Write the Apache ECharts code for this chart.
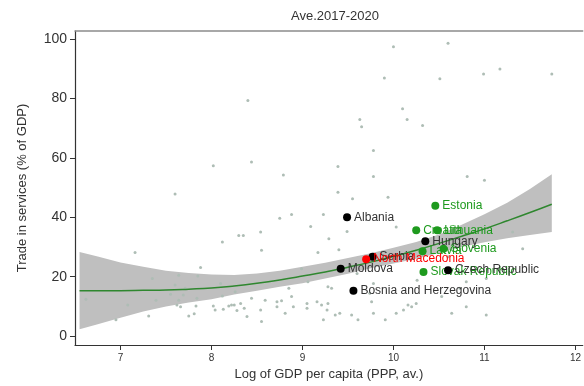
<!DOCTYPE html>
<html>
<head>
<meta charset="utf-8">
<script src="https://cdn.jsdelivr.net/npm/echarts@6/dist/echarts.min.js"></script>
<style>
  html, body { margin: 0; padding: 0; background: #fff; }
  #chart { width: 584px; height: 386px; }
</style>
</head>
<body>
<div id="chart"></div>
<script>
// Axis ticks
const xTicks = [7, 8, 9, 10, 11, 12];
const yTicks = [0, 20, 40, 60, 80, 100];

// All other countries (log GDP per capita, trade in services % of GDP)
const otherCountries = [
  [8.40, 79.3], [8.02, 57.3], [8.44, 58.6], [8.79, 54.2], [9.39, 57.1],
  [10.00, 97.4], [10.60, 98.6], [9.90, 86.9], [10.51, 86.6], [10.99, 88.2],
  [11.17, 89.9], [11.74, 88.2], [10.10, 76.5], [9.63, 72.9], [10.15, 72.9],
  [9.65, 70.5], [10.32, 70.9], [9.78, 62.5], [9.78, 53.7], [10.81, 53.7],
  [7.60, 47.8], [7.16, 28.1], [8.12, 31.7], [8.30, 33.9], [8.35, 33.9],
  [7.88, 23.1], [7.35, 19.4], [7.64, 20.5], [7.85, 20.2], [7.60, 17.2],
  [8.10, 17.7], [7.71, 16.1], [6.62, 12.4], [7.39, 12.1], [7.55, 14.1],
  [7.64, 12.1], [7.69, 13.8], [7.84, 12.7], [8.12, 13.5], [8.26, 14.9],
  [7.08, 10.5], [7.62, 10.5], [7.66, 9.9], [7.83, 10.1], [8.02, 10.1],
  [8.04, 8.8], [8.13, 9.0], [8.19, 10.1], [8.22, 10.5], [8.25, 10.5],
  [8.32, 11.0], [8.28, 8.6], [7.31, 6.8], [6.95, 5.5], [7.75, 6.8],
  [7.81, 7.5], [9.39, 48.4], [9.55, 46.2], [9.94, 46.7], [8.75, 39.7],
  [8.88, 40.9], [9.23, 40.9], [9.09, 36.9], [8.54, 35.0], [9.29, 32.8],
  [9.49, 35.2], [10.03, 36.7], [8.55, 28.9], [9.17, 28.1], [9.40, 29.1],
  [8.99, 22.7], [9.60, 21.1], [9.06, 18.3], [9.28, 16.6], [9.32, 16.1],
  [8.85, 16.1], [8.44, 12.7], [8.59, 12.1], [8.72, 11.6], [8.77, 11.9],
  [8.88, 13.3], [9.05, 11.0], [9.16, 11.6], [9.21, 10.5], [9.28, 11.0],
  [8.36, 9.4], [8.54, 8.8], [8.72, 9.9], [8.90, 9.9], [9.05, 9.4],
  [9.27, 8.8], [9.41, 7.7], [9.54, 7.1], [9.61, 5.5], [8.39, 6.6],
  [8.55, 4.9], [8.81, 7.7], [9.23, 5.5], [9.36, 7.1], [9.78, 7.7],
  [9.91, 5.5], [10.03, 7.7], [10.11, 8.8], [9.76, 11.6], [9.74, 14.4],
  [9.78, 17.7], [11.00, 52.5], [11.31, 35.0], [11.42, 29.4], [10.60, 26.7],
  [10.26, 18.8], [10.80, 18.3], [11.02, 19.4], [10.16, 10.5], [10.20, 9.9],
  [10.25, 11.0], [10.53, 13.3], [10.80, 9.9], [10.64, 7.7], [11.02, 7.1],
  [10.73, 16.1]
];

// Highlighted countries
const greenNames = ['Croatia', 'Lithuania', 'Latvia', 'Slovenia', 'Slovak Republic', 'Estonia'];
const greenX     = [10.25, 10.48, 10.32, 10.55, 10.33, 10.46];
const greenY     = [35.6, 35.6, 28.6, 29.4, 21.6, 43.9];

const blackNames = ['Albania', 'Moldova', 'Bosnia and Herzegovina', 'Serbia', 'Hungary', 'Czech Republic'];
const blackX     = [9.49, 9.42, 9.56, 9.77, 10.35, 10.60];
const blackY     = [40.0, 22.7, 15.3, 26.7, 31.9, 22.2];

const redNames = ['North Macedonia'];
const redX     = [9.70];
const redY     = [25.9];

// Fitted curve with its confidence band
const fitX     = [6.55, 6.75, 7.0, 7.25, 7.5, 7.75, 8.0, 8.25, 8.5, 8.75, 9.0, 9.25, 9.5, 9.75, 10.0, 10.25, 10.5, 10.75, 11.0, 11.25, 11.5, 11.74];
const fitY     = [15.3, 15.3, 15.3, 15.4, 15.5, 15.8, 16.2, 16.9, 17.8, 18.9, 20.2, 21.6, 23.2, 24.9, 26.8, 28.9, 31.2, 33.6, 36.1, 38.8, 41.6, 44.4];
const bandUpper = [28.3, 26.8, 24.8, 23.3, 22.0, 21.2, 20.7, 20.6, 21.1, 22.0, 23.3, 24.7, 26.3, 27.9, 29.7, 31.7, 34.2, 37.5, 41.0, 44.9, 49.5, 54.5];
const bandLower = [2.3, 4.0, 6.2, 8.3, 10.0, 11.3, 12.4, 14.0, 15.3, 16.6, 17.8, 19.4, 21.0, 22.8, 24.4, 26.0, 28.0, 30.0, 31.6, 32.9, 34.0, 35.0];

const GREEN = '#1e9a1e';
const FONT = 'Liberation Sans, Arial, Helvetica, sans-serif';

function pairs(xs, ys, names) {
  return xs.map((x, i) => names ? { name: names[i], value: [x, ys[i]] } : [x, ys[i]]);
}

function labelled(names, xs, ys, color, textColor, z) {
  return {
    type: 'scatter',
    data: pairs(xs, ys, names),
    symbol: 'circle',
    symbolSize: 8,
    itemStyle: { color: color, opacity: 1 },
    z: z,
    label: {
      show: true,
      position: 'right',
      distance: 3,
      formatter: '{b}',
      color: textColor,
      fontFamily: FONT,
      fontSize: 12
    },
    labelLayout: { hideOverlap: false },
    silent: true
  };
}

const chart = echarts.init(document.getElementById('chart'), null, { renderer: 'canvas' });

chart.setOption({
  animation: false,
  backgroundColor: '#fff',
  title: {
    text: 'Ave.2017-2020',
    left: 330,
    textAlign: 'center',
    top: 5,
    textStyle: { fontFamily: FONT, fontSize: 13, fontWeight: 'normal', color: '#333' }
  },
  grid: { left: 75, right: 0, top: 31, bottom: 39, containLabel: false },
  xAxis: [{
    type: 'value',
    min: 6.5,
    max: 12.08,
    position: 'bottom',
    name: 'Log of GDP per capita (PPP, av.)',
    nameLocation: 'middle',
    nameGap: 23,
    nameTextStyle: { fontFamily: FONT, fontSize: 13, color: '#333' },
    axisLine: { show: true, onZero: false, lineStyle: { color: '#333', width: 1.2 } },
    axisTick: { show: true, length: 5, customValues: xTicks, lineStyle: { color: '#333' } },
    axisLabel: { customValues: xTicks, fontFamily: FONT, fontSize: 10, color: '#333', margin: 8 },
    splitLine: { show: false }
  }, {
    type: 'value',
    min: 6.5,
    max: 12.08,
    position: 'top',
    axisLine: { show: true, onZero: false, lineStyle: { color: '#8c8c8c', width: 1.5 } },
    axisTick: { show: false },
    axisLabel: { show: false },
    splitLine: { show: false }
  }],
  yAxis: {
    type: 'value',
    min: -3,
    max: 102.7,
    name: 'Trade in services (% of GDP)',
    nameLocation: 'middle',
    nameGap: 46,
    nameTextStyle: { fontFamily: FONT, fontSize: 13, color: '#333' },
    axisLine: { show: true, lineStyle: { color: '#333', width: 1.2 } },
    axisTick: { show: true, length: 5, customValues: yTicks, lineStyle: { color: '#333' } },
    axisLabel: { customValues: yTicks, fontFamily: FONT, fontSize: 14, color: '#333', margin: 8 },
    splitLine: { show: false }
  },
  series: [
    {
      // confidence band around the fitted curve
      type: 'custom',
      silent: true,
      z: 1,
      clip: true,
      data: [[fitX[0], fitY[0]]],
      renderItem: function (params, api) {
        const top = fitX.map((x, i) => api.coord([x, bandUpper[i]]));
        const bottom = fitX.map((x, i) => api.coord([x, bandLower[i]])).reverse();
        return {
          type: 'polygon',
          shape: { points: top.concat(bottom) },
          style: { fill: '#bfbfbf' }
        };
      }
    },
    {
      type: 'scatter',
      data: otherCountries,
      symbol: 'circle',
      symbolSize: 3,
      itemStyle: { color: '#aebdb5', opacity: 1 },
      z: 2,
      silent: true
    },
    {
      type: 'line',
      data: pairs(fitX, fitY),
      smooth: true,
      showSymbol: false,
      lineStyle: { color: '#2f872f', width: 1.5 },
      z: 3,
      silent: true
    },
    labelled(greenNames, greenX, greenY, GREEN, GREEN, 4),
    labelled(blackNames, blackX, blackY, '#000', '#333', 5),
    labelled(redNames, redX, redY, '#ff0000', '#ff0000', 6)
  ]
});
</script>
</body>
</html>
